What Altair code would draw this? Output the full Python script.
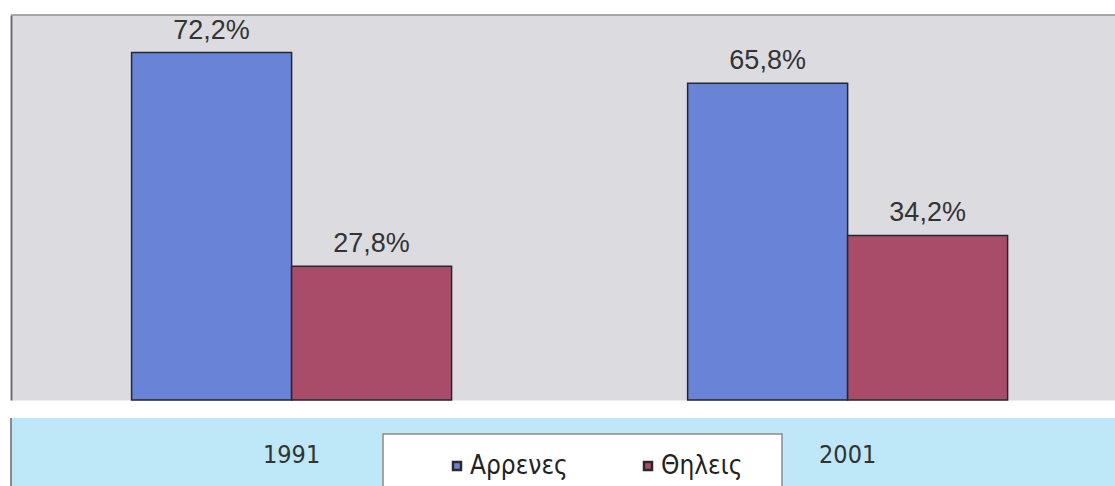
import altair as alt
import pandas as pd

# Data: share of each sex per census year (%)
years = ["1991", "2001"]
sexes = ["Αρρενες", "Θηλεις"]
shares_1991 = [72.2, 27.8]
shares_2001 = [65.8, 34.2]
bar_colors = ["#6983d6", "#a94c6a"]

rows = []
for year, vals in zip(years, [shares_1991, shares_2001]):
    for sex, v in zip(sexes, vals):
        rows.append({"year": year, "sex": sex, "share": v,
                     "label": f"{v:.1f}%".replace(".", ",")})
df = pd.DataFrame(rows)

W, H = 1104, 385
one = pd.DataFrame({"k": [0]})

x_enc = alt.X(
    "year:N", sort=years,
    scale=alt.Scale(paddingInner=0.4245, paddingOuter=0.205, align=0.529),
    axis=alt.Axis(title=None, labelAngle=0, ticks=False, tickSize=0, domain=False,
                  labelFont="DejaVu Sans Condensed", labelFontSize=25,
                  labelColor="#333333", labelBaseline="alphabetic",
                  labelPadding=62, zindex=2),
)
xo_enc = alt.XOffset("sex:N", sort=sexes,
                     scale=alt.Scale(paddingInner=0, paddingOuter=0))
y_enc = alt.Y(
    "share:Q",
    scale=alt.Scale(domain=[0, 80], nice=False, zero=True),
    axis=alt.Axis(title=None, labels=False, ticks=False, grid=False,
                  domain=True, domainColor="#6e6e6e", domainWidth=2),
)

# Light-blue band under the plot and the white legend frame
band = alt.Chart(one).mark_rect(color="#bee7f8").encode(
    x=alt.value(0), x2=alt.value(W), y=alt.value(403), y2=alt.value(H + 90)
)
band_edge = alt.Chart(one).mark_rule(color="#8a8a8a", strokeWidth=2).encode(
    x=alt.value(0), y=alt.value(403), y2=alt.value(H + 90)
)
legend_box = alt.Chart(one).mark_rect(
    fill="white", stroke="#8a8a8a", strokeWidth=1.5
).encode(x=alt.value(372), x2=alt.value(771), y=alt.value(419), y2=alt.value(H + 100))
top_edge = alt.Chart(one).mark_rule(color="#8c8c8c", strokeWidth=1.5).encode(
    x=alt.value(0), x2=alt.value(W), y=alt.value(0)
)

bars = alt.Chart(df).mark_bar(stroke="#262633", strokeWidth=1.5).encode(
    x=x_enc, xOffset=xo_enc, y=y_enc,
    color=alt.Color(
        "sex:N", sort=sexes,
        scale=alt.Scale(domain=sexes, range=bar_colors),
        legend=alt.Legend(
            orient="none", legendX=425, legendY=438, direction="horizontal",
            title=None, symbolType="square", symbolSize=64, symbolOffset=8,
            symbolStrokeColor="#2a2a2a", symbolStrokeWidth=2.5,
            labelFont="DejaVu Sans Condensed", labelFontSize=26,
            labelColor="#222222", labelOffset=0, columnPadding=59, padding=0,
        ),
    ),
)

texts = alt.Chart(df).mark_text(
    baseline="alphabetic", dy=-14, font="Liberation Sans", fontSize=27,
    color="#333333",
).encode(x=alt.X("year:N", sort=years), xOffset=alt.XOffset("sex:N", sort=sexes),
         y="share:Q", text="label:N")

chart = alt.layer(band, band_edge, legend_box, top_edge, bars, texts).properties(
    width=W, height=H,
    autosize=alt.AutoSizeParams(type="none"),
    padding={"left": 11, "top": 15, "right": 0, "bottom": 86},
    background="white",
).configure_view(fill="#dcdce0", stroke="transparent")

chart.save("out.html", embed_options={"renderer": "svg", "actions": False})
